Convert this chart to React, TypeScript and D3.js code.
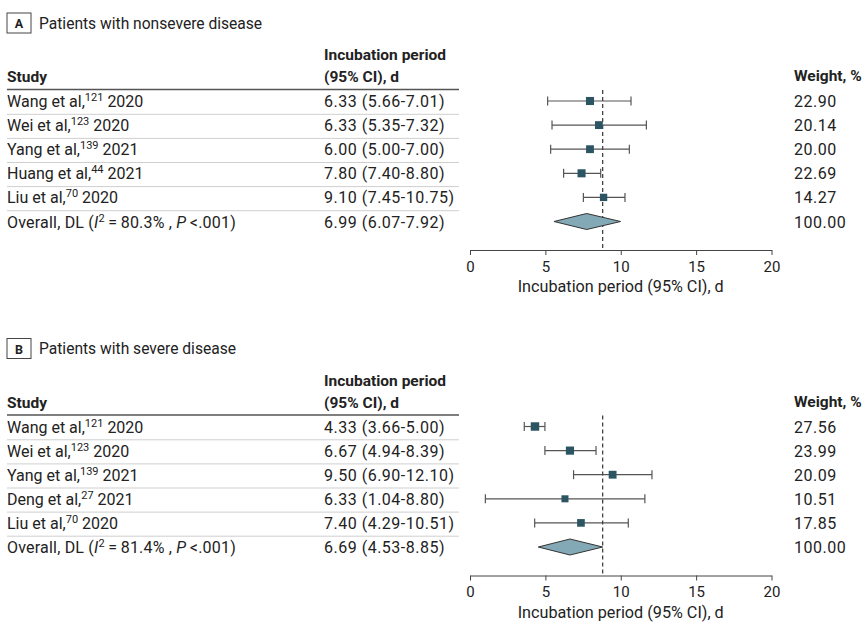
import React, { useEffect, useRef } from "react";
import * as d3 from "d3";

// panel A: nonsevere disease
const authorsA = ["Wang et al,", "Wei et al,", "Yang et al,", "Huang et al,", "Liu et al,"];
const refsA = ["121", "123", "139", "44", "70"];
const yearsA = ["2020", "2020", "2021", "2021", "2020"];
const estTextA = ["6.33 (5.66-7.01)", "6.33 (5.35-7.32)", "6.00 (5.00-7.00)", "7.80 (7.40-8.80)", "9.10 (7.45-10.75)"];
const weightsA = [22.9, 20.14, 20.0, 22.69, 14.27];
const pointA = [7.96, 8.55, 7.96, 7.4, 8.86];
const lowA = [5.15, 5.44, 5.35, 6.21, 7.52];
const highA = [10.68, 11.7, 10.57, 8.67, 10.28];
const overallA = [5.57, 7.74, 9.99];
const overallTextA = ["80.3%", "6.99 (6.07-7.92)"];

// panel B: severe disease
const authorsB = ["Wang et al,", "Wei et al,", "Yang et al,", "Deng et al,", "Liu et al,"];
const refsB = ["121", "123", "139", "27", "70"];
const yearsB = ["2020", "2020", "2021", "2021", "2020"];
const estTextB = ["4.33 (3.66-5.00)", "6.67 (4.94-8.39)", "9.50 (6.90-12.10)", "6.33 (1.04-8.80)", "7.40 (4.29-10.51)"];
const weightsB = [27.56, 23.99, 20.09, 10.51, 17.85];
const pointB = [4.31, 6.63, 9.46, 6.3, 7.36];
const lowB = [3.6, 4.97, 6.87, 1.02, 4.29];
const highB = [4.97, 8.36, 12.07, 11.6, 10.5];
const overallB = [4.53, 6.63, 8.8];
const overallTextB = ["81.4%", "6.69 (4.53-8.85)"];

const refLine = 8.8;
const xTicks = [0, 5, 10, 15, 20];

const FONT = "Roboto, 'Open Sans', sans-serif";
const TEXT = "#222";
const FS = 16;

const x = d3.scaleLinear().domain([0, 20]).range([470, 771.5]);
const fmt = d3.format(".2f");
const markSize = d3.scaleLinear().domain([10, 28]).range([7, 8.5]);

function Panel({ top, letter, title, authors, refs, years, estText, weights, point, low, high, overall, overallText }: any) {
  const axisRef = useRef<SVGGElement>(null);
  const n = authors.length;
  const y = d3.scalePoint<number>().domain(d3.range(n + 1)).range([101, 101 + 24.1 * n]);
  const axisY = 250;
  const base = 6;

  useEffect(() => {
    const g = d3.select(axisRef.current);
    g.call(d3.axisBottom(x).tickValues(xTicks).tickSize(5).tickSizeOuter(0).tickPadding(6));
    g.select(".domain").attr("stroke", "#444");
    g.selectAll(".tick line").attr("stroke", "#444");
    g.selectAll(".tick text").attr("font-size", 15).attr("font-family", FONT).attr("fill", TEXT);
  }, []);

  const oy = y(n)!;
  const diamond = `M${x(overall[0])},${oy} L${x(overall[1])},${oy - 8} L${x(overall[2])},${oy} L${x(overall[1])},${oy + 8} Z`;

  return (
    <g transform={`translate(0,${top})`} fontFamily={FONT} fill={TEXT}>
      <rect x={7} y={13} width={24} height={20} fill="none" stroke="#444" strokeWidth={1} />
      <text x={19} y={28} textAnchor="middle" fontSize={12.5} fontWeight="bold">{letter}</text>
      <text x={39} y={28.5} fontSize={15.6}>{title}</text>

      <text x={7} y={82} fontSize={15.5} fontWeight="bold">Study</text>
      <text x={324} y={60} fontSize={15.5} fontWeight="bold">Incubation period</text>
      <text x={324} y={82} fontSize={15.5} fontWeight="bold">(95% CI), d</text>
      <text x={794} y={81} fontSize={15.5} fontWeight="bold">Weight, %</text>
      <line x1={7} x2={459} y1={89.5} y2={89.5} stroke="#555" strokeWidth={1.6} />

      {authors.map((a: string, i: number) => (
        <g key={i}>
          <line x1={7} x2={459} y1={y(i)! + 13.3} y2={y(i)! + 13.3} stroke="#cfcfcf" strokeWidth={1} />
          <text x={7} y={y(i)! + base} fontSize={FS}>
            {a}
            <tspan fontSize={11} dy={-6}>{refs[i]}</tspan>
            <tspan dy={6}>{" " + years[i]}</tspan>
          </text>
          <text x={324} y={y(i)! + base} fontSize={FS} letterSpacing={0.5}>{estText[i]}</text>
          <text x={794} y={y(i)! + base} fontSize={FS} letterSpacing={0.5}>{fmt(weights[i])}</text>
          <line x1={x(low[i])} x2={x(high[i])} y1={y(i)} y2={y(i)} stroke="#555" strokeWidth={1.2} />
          <line x1={x(low[i])} x2={x(low[i])} y1={y(i)! - 4.5} y2={y(i)! + 4.5} stroke="#555" strokeWidth={1.2} />
          <line x1={x(high[i])} x2={x(high[i])} y1={y(i)! - 4.5} y2={y(i)! + 4.5} stroke="#555" strokeWidth={1.2} />
        </g>
      ))}

      <text x={7} y={oy + base} fontSize={FS} letterSpacing={0.2}>
        {"Overall, DL ("}
        <tspan fontStyle="italic">I</tspan>
        <tspan fontSize={11} dy={-6}>2</tspan>
        <tspan dy={6}>{"\u2009=\u2009" + overallText[0] + " , "}</tspan>
        <tspan fontStyle="italic">P</tspan>
        <tspan>{"\u2009<.001)"}</tspan>
      </text>
      <text x={324} y={oy + base} fontSize={FS} letterSpacing={0.5}>{overallText[1]}</text>
      <text x={794} y={oy + base} fontSize={FS} letterSpacing={0.5}>100.00</text>

      <line x1={x(refLine)} x2={x(refLine)} y1={90} y2={axisY} stroke="#444" strokeWidth={1.3} strokeDasharray="4,3" />

      {point.map((p: number, i: number) => {
        const s = markSize(weights[i]);
        return <rect key={i} x={x(p) - s / 2} y={y(i)! - s / 2} width={s} height={s} fill="#2b5563" />;
      })}

      <path d={diamond} fill="#83a9b6" stroke="#333" strokeWidth={1} />

      <g ref={axisRef} transform={`translate(0,${axisY})`} />
      <text x={(x(0) + x(20)) / 2} y={292} textAnchor="middle" fontSize={16.2}>Incubation period (95% CI), d</text>
    </g>
  );
}

export default function App() {
  return (
    <div style={{ position: "absolute", left: 0, top: 0 }}>
      <svg width={864} height={624} style={{ display: "block", background: "#fff" }}>
        <Panel top={0} letter="A" title="Patients with nonsevere disease"
          authors={authorsA} refs={refsA} years={yearsA} estText={estTextA} weights={weightsA}
          point={pointA} low={lowA} high={highA} overall={overallA} overallText={overallTextA} />
        <Panel top={325.5} letter="B" title="Patients with severe disease"
          authors={authorsB} refs={refsB} years={yearsB} estText={estTextB} weights={weightsB}
          point={pointB} low={lowB} high={highB} overall={overallB} overallText={overallTextB} />
      </svg>
    </div>
  );
}
